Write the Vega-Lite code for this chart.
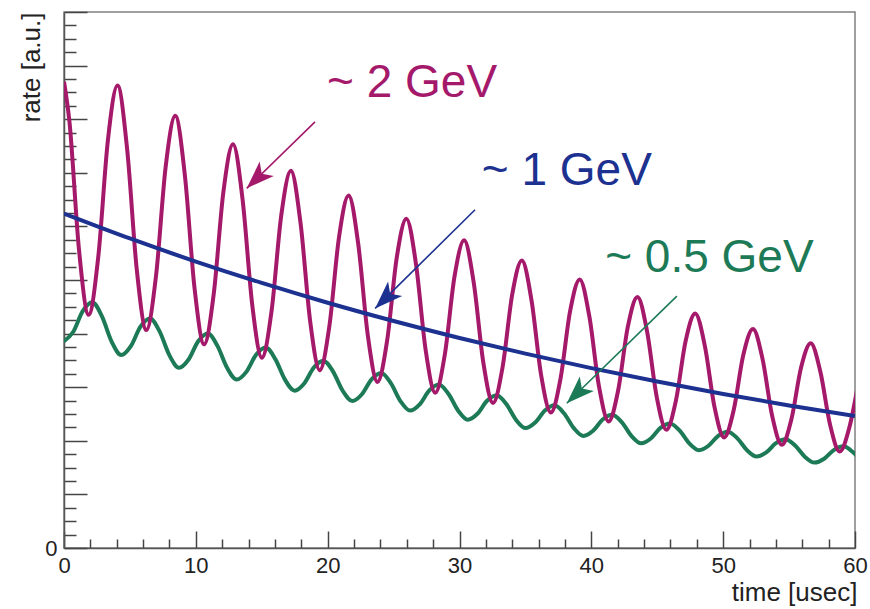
{
  "$schema": "https://vega.github.io/schema/vega-lite/v6.json",
  "width": 791,
  "height": 536,
  "autosize": "none",
  "padding": {"left": 64, "top": 12, "right": 15, "bottom": 61},
  "background": "white",
  "config": {
    "font": "Liberation Sans",
    "view": {"stroke": "#808080", "strokeWidth": 1.5},
    "axis": {"labelFont": "Liberation Sans", "titleFont": "Liberation Sans"}
  },
  "datasets": {
    "curves": [
      {"series":"0.5 GeV","t":-0.04,"rate":3.852},{"series":"0.5 GeV","t":0.69,"rate":4.029},{"series":"0.5 GeV","t":1.42,"rate":4.419},{"series":"0.5 GeV","t":2.15,"rate":4.585},{"series":"0.5 GeV","t":2.88,"rate":4.320},{"series":"0.5 GeV","t":3.61,"rate":3.851},
      {"series":"0.5 GeV","t":4.34,"rate":3.599},{"series":"0.5 GeV","t":5.07,"rate":3.765},{"series":"0.5 GeV","t":5.80,"rate":4.129},{"series":"0.5 GeV","t":6.53,"rate":4.283},{"series":"0.5 GeV","t":7.26,"rate":4.036},{"series":"0.5 GeV","t":7.99,"rate":3.598},
      {"series":"0.5 GeV","t":8.72,"rate":3.363},{"series":"0.5 GeV","t":9.45,"rate":3.517},{"series":"0.5 GeV","t":10.18,"rate":3.858},{"series":"0.5 GeV","t":10.91,"rate":4.002},{"series":"0.5 GeV","t":11.64,"rate":3.771},{"series":"0.5 GeV","t":12.37,"rate":3.362},
      {"series":"0.5 GeV","t":13.10,"rate":3.142},{"series":"0.5 GeV","t":13.83,"rate":3.286},{"series":"0.5 GeV","t":14.57,"rate":3.604},{"series":"0.5 GeV","t":15.30,"rate":3.739},{"series":"0.5 GeV","t":16.03,"rate":3.524},{"series":"0.5 GeV","t":16.76,"rate":3.141},
      {"series":"0.5 GeV","t":17.49,"rate":2.936},{"series":"0.5 GeV","t":18.22,"rate":3.070},{"series":"0.5 GeV","t":18.95,"rate":3.368},{"series":"0.5 GeV","t":19.68,"rate":3.494},{"series":"0.5 GeV","t":20.41,"rate":3.292},{"series":"0.5 GeV","t":21.14,"rate":2.934},
      {"series":"0.5 GeV","t":21.87,"rate":2.743},{"series":"0.5 GeV","t":22.60,"rate":2.869},{"series":"0.5 GeV","t":23.33,"rate":3.146},{"series":"0.5 GeV","t":24.06,"rate":3.264},{"series":"0.5 GeV","t":24.79,"rate":3.076},{"series":"0.5 GeV","t":25.52,"rate":2.742},
      {"series":"0.5 GeV","t":26.25,"rate":2.563},{"series":"0.5 GeV","t":26.98,"rate":2.680},{"series":"0.5 GeV","t":27.71,"rate":2.940},{"series":"0.5 GeV","t":28.44,"rate":3.050},{"series":"0.5 GeV","t":29.17,"rate":2.874},{"series":"0.5 GeV","t":29.90,"rate":2.562},
      {"series":"0.5 GeV","t":30.63,"rate":2.394},{"series":"0.5 GeV","t":31.36,"rate":2.504},{"series":"0.5 GeV","t":32.09,"rate":2.747},{"series":"0.5 GeV","t":32.82,"rate":2.850},{"series":"0.5 GeV","t":33.55,"rate":2.685},{"series":"0.5 GeV","t":34.28,"rate":2.393},
      {"series":"0.5 GeV","t":35.01,"rate":2.237},{"series":"0.5 GeV","t":35.74,"rate":2.340},{"series":"0.5 GeV","t":36.48,"rate":2.566},{"series":"0.5 GeV","t":37.21,"rate":2.662},{"series":"0.5 GeV","t":37.94,"rate":2.509},{"series":"0.5 GeV","t":38.67,"rate":2.236},
      {"series":"0.5 GeV","t":39.40,"rate":2.090},{"series":"0.5 GeV","t":40.13,"rate":2.186},{"series":"0.5 GeV","t":40.86,"rate":2.398},{"series":"0.5 GeV","t":41.59,"rate":2.487},{"series":"0.5 GeV","t":42.32,"rate":2.344},{"series":"0.5 GeV","t":43.05,"rate":2.089},
      {"series":"0.5 GeV","t":43.78,"rate":1.953},{"series":"0.5 GeV","t":44.51,"rate":2.043},{"series":"0.5 GeV","t":45.24,"rate":2.240},{"series":"0.5 GeV","t":45.97,"rate":2.324},{"series":"0.5 GeV","t":46.70,"rate":2.190},{"series":"0.5 GeV","t":47.43,"rate":1.952},
      {"series":"0.5 GeV","t":48.16,"rate":1.825},{"series":"0.5 GeV","t":48.89,"rate":1.908},{"series":"0.5 GeV","t":49.62,"rate":2.093},{"series":"0.5 GeV","t":50.35,"rate":2.171},{"series":"0.5 GeV","t":51.08,"rate":2.046},{"series":"0.5 GeV","t":51.81,"rate":1.824},
      {"series":"0.5 GeV","t":52.54,"rate":1.705},{"series":"0.5 GeV","t":53.27,"rate":1.783},{"series":"0.5 GeV","t":54.00,"rate":1.956},{"series":"0.5 GeV","t":54.73,"rate":2.029},{"series":"0.5 GeV","t":55.46,"rate":1.912},{"series":"0.5 GeV","t":56.19,"rate":1.704},
      {"series":"0.5 GeV","t":56.93,"rate":1.593},{"series":"0.5 GeV","t":57.66,"rate":1.666},{"series":"0.5 GeV","t":58.39,"rate":1.827},{"series":"0.5 GeV","t":59.12,"rate":1.896},{"series":"0.5 GeV","t":59.85,"rate":1.786},{"series":"0.5 GeV","t":60.58,"rate":1.592},

      {"series":"2 GeV","t":0,"rate":8.70},{"series":"2 GeV","t":0.41,"rate":7.962},{"series":"2 GeV","t":1.14,"rate":5.558},{"series":"2 GeV","t":1.87,"rate":4.352},{"series":"2 GeV","t":2.60,"rate":5.434},{"series":"2 GeV","t":3.33,"rate":7.609},
      {"series":"2 GeV","t":4.06,"rate":8.629},{"series":"2 GeV","t":4.79,"rate":7.439},{"series":"2 GeV","t":5.52,"rate":5.193},{"series":"2 GeV","t":6.25,"rate":4.066},{"series":"2 GeV","t":6.98,"rate":5.077},{"series":"2 GeV","t":7.71,"rate":7.110},
      {"series":"2 GeV","t":8.44,"rate":8.063},{"series":"2 GeV","t":9.17,"rate":6.950},{"series":"2 GeV","t":9.90,"rate":4.852},{"series":"2 GeV","t":10.63,"rate":3.799},{"series":"2 GeV","t":11.36,"rate":4.744},{"series":"2 GeV","t":12.09,"rate":6.643},
      {"series":"2 GeV","t":12.82,"rate":7.533},{"series":"2 GeV","t":13.55,"rate":6.494},{"series":"2 GeV","t":14.28,"rate":4.534},{"series":"2 GeV","t":15.01,"rate":3.550},{"series":"2 GeV","t":15.75,"rate":4.432},{"series":"2 GeV","t":16.48,"rate":6.206},
      {"series":"2 GeV","t":17.21,"rate":7.038},{"series":"2 GeV","t":17.94,"rate":6.067},{"series":"2 GeV","t":18.67,"rate":4.236},{"series":"2 GeV","t":19.40,"rate":3.316},{"series":"2 GeV","t":20.13,"rate":4.141},{"series":"2 GeV","t":20.86,"rate":5.799},
      {"series":"2 GeV","t":21.59,"rate":6.576},{"series":"2 GeV","t":22.32,"rate":5.669},{"series":"2 GeV","t":23.05,"rate":3.958},{"series":"2 GeV","t":23.78,"rate":3.099},{"series":"2 GeV","t":24.51,"rate":3.869},{"series":"2 GeV","t":25.24,"rate":5.418},
      {"series":"2 GeV","t":25.97,"rate":6.144},{"series":"2 GeV","t":26.70,"rate":5.296},{"series":"2 GeV","t":27.43,"rate":3.698},{"series":"2 GeV","t":28.16,"rate":2.895},{"series":"2 GeV","t":28.89,"rate":3.615},{"series":"2 GeV","t":29.62,"rate":5.062},
      {"series":"2 GeV","t":30.35,"rate":5.741},{"series":"2 GeV","t":31.08,"rate":4.949},{"series":"2 GeV","t":31.81,"rate":3.455},{"series":"2 GeV","t":32.54,"rate":2.705},{"series":"2 GeV","t":33.27,"rate":3.377},{"series":"2 GeV","t":34.00,"rate":4.730},
      {"series":"2 GeV","t":34.73,"rate":5.363},{"series":"2 GeV","t":35.46,"rate":4.624},{"series":"2 GeV","t":36.19,"rate":3.228},{"series":"2 GeV","t":36.93,"rate":2.527},{"series":"2 GeV","t":37.66,"rate":3.156},{"series":"2 GeV","t":38.39,"rate":4.419},
      {"series":"2 GeV","t":39.12,"rate":5.011},{"series":"2 GeV","t":39.85,"rate":4.320},{"series":"2 GeV","t":40.58,"rate":3.016},{"series":"2 GeV","t":41.31,"rate":2.361},{"series":"2 GeV","t":42.04,"rate":2.948},{"series":"2 GeV","t":42.77,"rate":4.129},
      {"series":"2 GeV","t":43.50,"rate":4.682},{"series":"2 GeV","t":44.23,"rate":4.036},{"series":"2 GeV","t":44.96,"rate":2.818},{"series":"2 GeV","t":45.69,"rate":2.206},{"series":"2 GeV","t":46.42,"rate":2.755},{"series":"2 GeV","t":47.15,"rate":3.857},
      {"series":"2 GeV","t":47.88,"rate":4.375},{"series":"2 GeV","t":48.61,"rate":3.771},{"series":"2 GeV","t":49.34,"rate":2.633},{"series":"2 GeV","t":50.07,"rate":2.061},{"series":"2 GeV","t":50.80,"rate":2.574},{"series":"2 GeV","t":51.53,"rate":3.604},
      {"series":"2 GeV","t":52.26,"rate":4.087},{"series":"2 GeV","t":52.99,"rate":3.523},{"series":"2 GeV","t":53.72,"rate":2.460},{"series":"2 GeV","t":54.45,"rate":1.926},{"series":"2 GeV","t":55.18,"rate":2.405},{"series":"2 GeV","t":55.91,"rate":3.367},
      {"series":"2 GeV","t":56.64,"rate":3.819},{"series":"2 GeV","t":57.37,"rate":3.292},{"series":"2 GeV","t":58.11,"rate":2.298},{"series":"2 GeV","t":58.84,"rate":1.799},{"series":"2 GeV","t":59.57,"rate":2.247},{"series":"2 GeV","t":60.30,"rate":3.146},

      {"series":"1 GeV","t":0,"rate":6.240},{"series":"1 GeV","t":5,"rate":5.775},{"series":"1 GeV","t":10,"rate":5.344},{"series":"1 GeV","t":15,"rate":4.945},{"series":"1 GeV","t":20,"rate":4.576},{"series":"1 GeV","t":25,"rate":4.235},
      {"series":"1 GeV","t":30,"rate":3.919},{"series":"1 GeV","t":35,"rate":3.627},{"series":"1 GeV","t":40,"rate":3.356},{"series":"1 GeV","t":45,"rate":3.106},{"series":"1 GeV","t":50,"rate":2.874},{"series":"1 GeV","t":55,"rate":2.660},{"series":"1 GeV","t":60,"rate":2.461}
    ],
    "arrows": [
      {"series":"2 GeV","t":13.86,"rate":6.71,"t2":19.04,"rate2":7.95},
      {"series":"1 GeV","t":23.6,"rate":4.47,"t2":31.18,"rate2":6.31},
      {"series":"0.5 GeV","t":38.14,"rate":2.70,"t2":46.49,"rate2":4.70}
    ],
    "labels": [
      {"series":"2 GeV","label":"~ 2 GeV","t":19.95,"rate":8.41},
      {"series":"1 GeV","label":"~ 1 GeV","t":31.69,"rate":6.77},
      {"series":"0.5 GeV","label":"~ 0.5 GeV","t":41.05,"rate":5.155}
    ]
  },
  "encoding": {
    "x": {
      "field": "t", "type": "quantitative",
      "scale": {"domain": [0, 60], "nice": false, "zero": false},
      "axis": {
        "values": [0,2,4,6,8,10,12,14,16,18,20,22,24,26,28,30,32,34,36,38,40,42,44,46,48,50,52,54,56,58,60],
        "labelExpr": "datum.value % 10 === 0 ? datum.label : ''",
        "labelFlush": false, "labelOverlap": false,
        "labelFontSize": 22, "labelColor": "#222", "labelPadding": 24,
        "tickSize": {"condition": {"test": "datum.value % 10 === 0", "value": -17}, "value": -9},
        "tickColor": "#444", "tickWidth": 1.5,
        "domainColor": "#555", "domainWidth": 1.5,
        "grid": false,
        "title": "time [usec]", "titleFontSize": 26, "titleFontWeight": "normal", "titleColor": "#222",
        "titleAnchor": "end", "titleAlign": "right", "titleBaseline": "alphabetic", "titleX": 793, "titleY": 52
      }
    },
    "y": {
      "field": "rate", "type": "quantitative",
      "scale": {"domain": [0, 10], "nice": false, "zero": false},
      "axis": {
        "values": [0,0.25,0.5,0.75,1,1.25,1.5,1.75,2,2.25,2.5,2.75,3,3.25,3.5,3.75,4,4.25,4.5,4.75,5,5.25,5.5,5.75,6,6.25,6.5,6.75,7,7.25,7.5,7.75,8,8.25,8.5,8.75,9,9.25,9.5,9.75,10],
        "labelExpr": "datum.value === 0 ? '0' : ''",
        "labelOverlap": false, "labelFlush": false,
        "labelFontSize": 22, "labelColor": "#222", "labelPadding": 30,
        "tickSize": {"condition": {"test": "datum.value % 1 === 0", "value": -23}, "value": -12},
        "tickColor": "#444", "tickWidth": 1.5,
        "domainColor": "#555", "domainWidth": 1.5,
        "grid": false,
        "title": "rate [a.u.]", "titleFontSize": 26, "titleFontWeight": "normal", "titleColor": "#222",
        "titleAngle": 270, "titleAnchor": "end", "titleAlign": "right", "titleBaseline": "alphabetic", "titleX": -25, "titleY": 0
      }
    },
    "color": {
      "field": "series", "type": "nominal",
      "scale": {"domain": ["0.5 GeV", "2 GeV", "1 GeV"], "range": ["#1d7a56", "#a5196b", "#1c3190"]},
      "legend": null
    }
  },
  "layer": [
    {
      "data": {"name": "curves"},
      "mark": {"type": "line", "interpolate": "monotone", "strokeWidth": 4, "clip": true}
    },
    {
      "data": {"name": "arrows"},
      "mark": {"type": "rule", "strokeWidth": 1.6},
      "encoding": {
        "x2": {"field": "t2"},
        "y2": {"field": "rate2"}
      }
    },
    {
      "data": {"name": "arrows"},
      "mark": {"type": "point", "filled": true, "opacity": 1, "shape": "M0,0 L-1,-0.36 L-0.75,0 L-1,0.36 Z", "size": 3136, "angle": 135.6}
    },
    {
      "data": {"name": "labels"},
      "mark": {"type": "text", "align": "left", "baseline": "alphabetic", "fontSize": 46, "font": "Liberation Sans"},
      "encoding": {
        "text": {"field": "label"}
      }
    }
  ]
}
